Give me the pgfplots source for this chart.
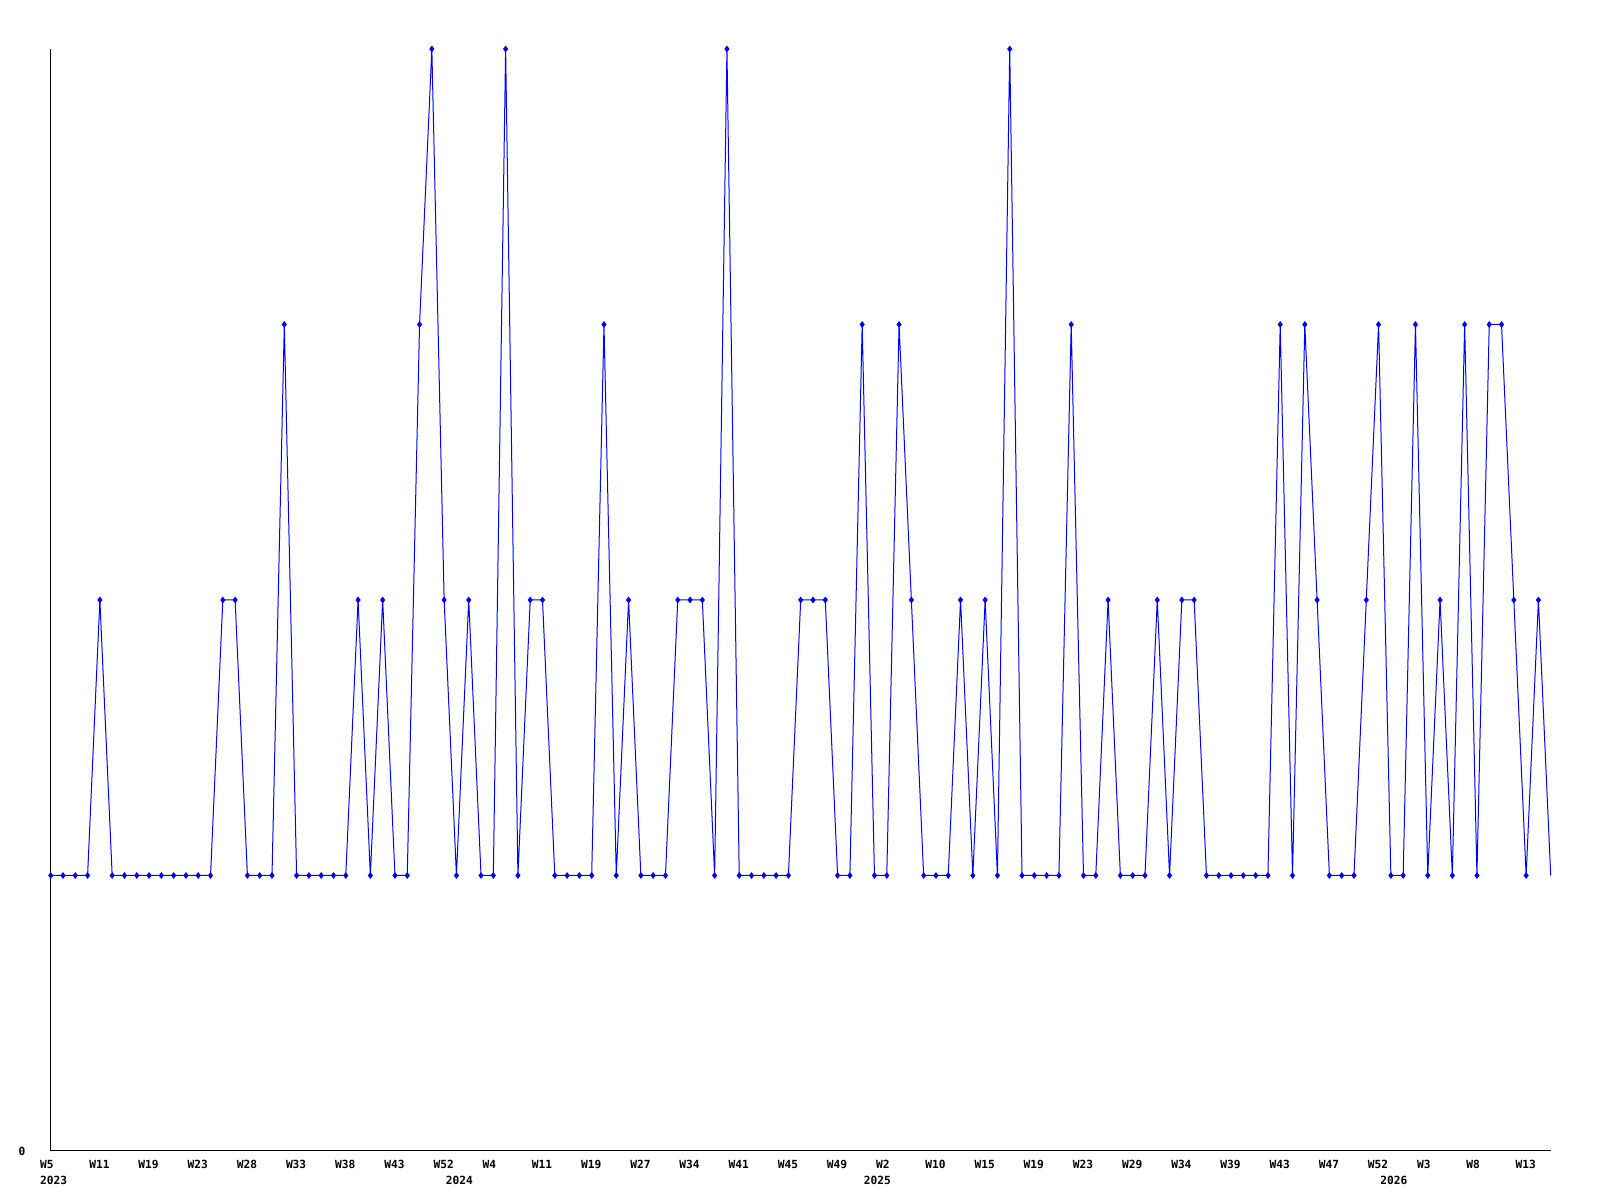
\documentclass[border=0pt]{standalone}
\usepackage{fontspec}
\usepackage{pgfplots}
\usepackage{pgfplotstable}
\pgfplotsset{compat=1.18}
\newfontfamily\lbl{DejaVu Sans Mono}
\newcommand{\lblfont}{\lbl\bfseries\fontsize{5.6}{6}\selectfont}
\definecolor{lineblue}{RGB}{0,0,255}
\pgfplotstableread{
i v
0 1
1 1
2 1
3 1
4 2
5 1
6 1
7 1
8 1
9 1
10 1
11 1
12 1
13 1
14 2
15 2
16 1
17 1
18 1
19 3
20 1
21 1
22 1
23 1
24 1
25 2
26 1
27 2
28 1
29 1
30 3
31 4
32 2
33 1
34 2
35 1
36 1
37 4
38 1
39 2
40 2
41 1
42 1
43 1
44 1
45 3
46 1
47 2
48 1
49 1
50 1
51 2
52 2
53 2
54 1
55 4
56 1
57 1
58 1
59 1
60 1
61 2
62 2
63 2
64 1
65 1
66 3
67 1
68 1
69 3
70 2
71 1
72 1
73 1
74 2
75 1
76 2
77 1
78 4
79 1
80 1
81 1
82 1
83 3
84 1
85 1
86 2
87 1
88 1
89 1
90 2
91 1
92 2
93 2
94 1
95 1
96 1
97 1
98 1
99 1
100 3
101 1
102 3
103 2
104 1
105 1
106 1
107 2
108 3
109 1
110 1
111 3
112 1
113 2
114 1
115 3
116 1
117 3
118 3
119 2
120 1
121 2
122 1
}\datatable
\begin{document}
\begin{tikzpicture}
\begin{axis}[
  name=ax,
  scale only axis,
  width=750pt, height=551pt,
  xmin=0, xmax=122, ymin=0, ymax=4,
  axis lines=left,
  axis line style={-, black, line width=0.5pt},
  clip=false,
  major tick length=0pt,
  xtick={0,4,...,120},
  xticklabels={W5,W11,W19,W23,W28,W33,W38,W43,W52,W4,W11,W19,W27,W34,W41,W45,W49,W2,W10,W15,W19,W23,W29,W34,W39,W43,W47,W52,W3,W8,W13},
  xticklabel style={font=\lblfont, anchor=north west, inner sep=0pt, xshift=-5.5pt, yshift=-4.5pt},
  ytick={0},
  yticklabels={0},
  yticklabel style={font=\lblfont, anchor=east, inner sep=0pt, xshift=-12.5pt},
]
\addplot[color=lineblue, line width=0.5pt, mark=diamond*, mark size=1.3pt,
  mark options={fill=lineblue, draw=lineblue}, mark indices={1,...,122}]
  table[x=i, y=v] {\datatable};
\node[font=\lblfont, anchor=north west, inner sep=0pt, xshift=-5.5pt, yshift=-12.2pt] at (axis cs:0,0) {2023};
\node[font=\lblfont, anchor=north west, inner sep=0pt, xshift=-5.5pt, yshift=-12.2pt] at (axis cs:33,0) {2024};
\node[font=\lblfont, anchor=north west, inner sep=0pt, xshift=-5.5pt, yshift=-12.2pt] at (axis cs:67,0) {2025};
\node[font=\lblfont, anchor=north west, inner sep=0pt, xshift=-5.5pt, yshift=-12.2pt] at (axis cs:109,0) {2026};
\end{axis}
\path (ax.south west) ++(-25.35pt,-24.5pt) coordinate (bl);
\path (ax.north east) ++(24.65pt,24.5pt) coordinate (tr);
\useasboundingbox (bl) rectangle (tr);
\end{tikzpicture}
\end{document}
